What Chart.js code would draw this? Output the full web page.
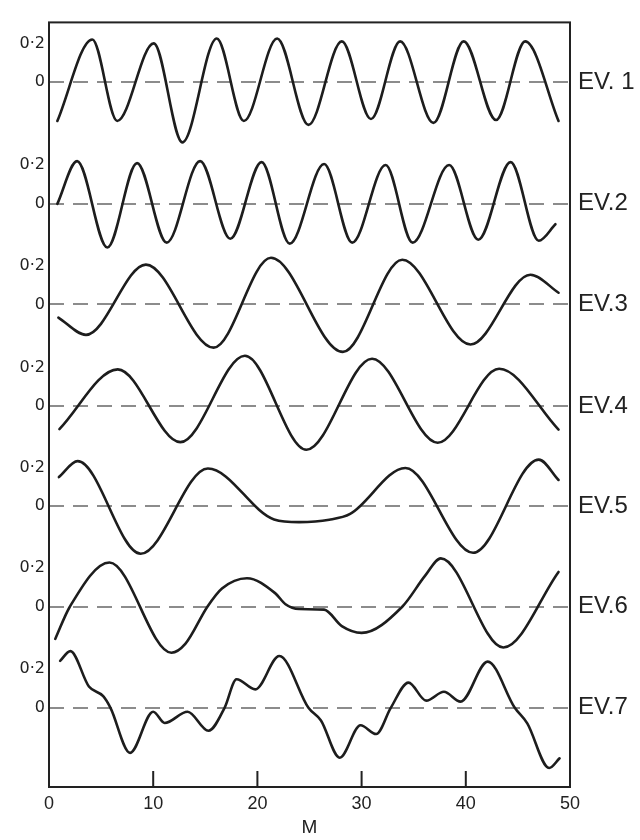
<!DOCTYPE html>
<html>
<head>
<meta charset="utf-8">
<script src="https://cdn.jsdelivr.net/npm/chart.js@4.4.0/dist/chart.umd.min.js"></script>
<style>
  html, body { margin: 0; padding: 0; background: #fff; }
  #wrap { width: 640px; height: 840px; }
</style>
</head>
<body>
<div id="wrap"><canvas id="chart"></canvas></div>
<script>
// values: M position of each peak / trough (plus a few
// crossings and shoulders) and the eigenvector amplitude there
const ev1M = [0.8, 4.15, 6.55, 10.05, 12.8, 16.1, 18.7, 21.9, 24.9, 28.1, 30.9, 33.7, 36.9, 39.8, 42.9, 45.7, 48.9];
const ev1V = [-0.2, 0.22, -0.2, 0.2, -0.31, 0.225, -0.2, 0.225, -0.22, 0.21, -0.19, 0.21, -0.21, 0.21, -0.195, 0.21, -0.2];

const ev2M = [0.8, 2.7, 5.6, 8.45, 11.3, 14.5, 17.4, 20.4, 23.1, 26.4, 29.1, 32.3, 34.9, 38.4, 41.2, 44.3, 47.0, 48.6];
const ev2V = [0, 0.22, -0.225, 0.21, -0.2, 0.22, -0.18, 0.215, -0.205, 0.205, -0.2, 0.2, -0.2, 0.2, -0.185, 0.215, -0.19, -0.105];

const ev3M = [0.9, 3.55, 9.3, 15.8, 21.3, 28.2, 33.9, 40.45, 46.2, 48.9];
const ev3V = [-0.068, -0.157, 0.205, -0.223, 0.24, -0.245, 0.23, -0.207, 0.153, 0.06];

const ev4M = [1.0, 6.6, 12.6, 18.8, 24.7, 31.0, 37.3, 43.2, 48.9];
const ev4V = [-0.118, 0.19, -0.185, 0.26, -0.224, 0.245, -0.188, 0.193, -0.12];

const ev5M = [0.95, 2.75, 8.8, 15.25, 21.6, 24.0, 26.9, 28.9, 34.2, 40.7, 47.0, 48.9];
const ev5V = [0.15, 0.232, -0.245, 0.194, -0.068, -0.082, -0.07, -0.04, 0.197, -0.24, 0.24, 0.135];

const ev6M = [0.6, 2.0, 5.8, 11.75, 13.1, 15.2, 16.6, 19.0, 21.7, 22.7, 24.0, 26.4, 28.1, 30.0, 33.9, 36.1, 37.6, 43.6, 48.9];
const ev6V = [-0.166, 0, 0.228, -0.237, -0.19, 0, 0.094, 0.147, 0.07, 0.013, -0.012, -0.015, -0.1, -0.135, 0, 0.16, 0.249, -0.21, 0.179];

const ev7M = [1.07, 2.05, 3.83, 5.2, 5.9, 7.78, 10.0, 11.1, 13.3, 15.3, 16.85, 18.0, 19.8, 22.1, 24.9, 26.1, 27.9, 29.9, 31.4, 32.8, 34.5, 36.2, 37.9, 39.5, 42.1, 44.7, 45.9, 48.0, 49.0];
const ev7V = [0.242, 0.292, 0.11, 0.06, 0, -0.232, -0.02, -0.078, -0.02, -0.118, 0, 0.147, 0.095, 0.267, 0, -0.065, -0.257, -0.09, -0.135, 0, 0.13, 0.037, 0.083, 0.032, 0.238, 0, -0.08, -0.31, -0.26];

const evNames = ['EV. 1', 'EV.2', 'EV.3', 'EV.4', 'EV.5', 'EV.6', 'EV.7'];
const xTickLabels = [0, 10, 20, 30, 40, 50];
const innerTicks = [10, 20, 30, 40];

// layout: where each trace's zero sits on the shared y axis (1 unit ~ 197px)
const zeroLevels = [3.632, 3.005, 2.487, 1.962, 1.447, 0.929, 0.408];
const yTop = 3.94;

const traces = [[ev1M, ev1V], [ev2M, ev2V], [ev3M, ev3V], [ev4M, ev4V], [ev5M, ev5V], [ev6M, ev6V], [ev7M, ev7V]];

const datasets = traces.map(([ms, vs], k) => ({
  label: evNames[k],
  data: ms.map((m, i) => ({x: m, y: vs[i] + zeroLevels[k]})),
  borderColor: '#1d1d1d',
  borderWidth: 2.6,
  pointRadius: 0,
  fill: false,
  cubicInterpolationMode: 'monotone',
  borderJoinStyle: 'round',
  borderCapStyle: 'round'
}));

// left ticks: "0" and "0·2" for every trace, ascending
const leftTicks = [];
const leftLabels = [];
for (let k = zeroLevels.length - 1; k >= 0; k--) {
  leftTicks.push(zeroLevels[k]); leftLabels.push('0');
  leftTicks.push(zeroLevels[k] + 0.2); leftLabels.push('0·2');
}
const rightTicks = zeroLevels.slice().reverse();
const rightLabels = evNames.slice().reverse();

const textColor = '#222';
const family = '"Liberation Sans", Arial, sans-serif';

const frame = {
  id: 'frame',
  afterDraw(chart) {
    const {ctx, chartArea: a, scales: {x}} = chart;
    ctx.save();
    ctx.strokeStyle = '#222';
    ctx.lineWidth = 2;
    ctx.strokeRect(a.left, a.top, a.right - a.left, a.bottom - a.top);
    ctx.beginPath();
    innerTicks.forEach(v => {
      const px = x.getPixelForValue(v);
      ctx.moveTo(px, a.bottom);
      ctx.lineTo(px, a.bottom - 16);
    });
    ctx.stroke();
    ctx.restore();
  }
};

const ctx = document.getElementById('chart').getContext('2d');
new Chart(ctx, {
  type: 'line',
  data: {datasets},
  plugins: [frame],
  options: {
    responsive: true,
    maintainAspectRatio: false,
    animation: false,
    layout: {padding: {top: 11, left: 0, right: 0, bottom: 0}},
    plugins: {legend: {display: false}, tooltip: {enabled: false}},
    scales: {
      x: {
        type: 'linear',
        min: 0,
        max: 50,
        afterBuildTicks: s => { s.ticks = xTickLabels.map(v => ({value: v})); },
        afterFit: s => { s.height = 53; },
        grid: {display: false, drawTicks: false},
        border: {display: false},
        ticks: {color: textColor, padding: 6, font: {family, size: 18}},
        title: {display: true, text: 'M', color: textColor, font: {family, size: 19, lineHeight: 1}, padding: {top: 0, bottom: 3}}
      },
      y: {
        type: 'linear',
        position: 'left',
        min: 0,
        max: yTop,
        afterBuildTicks: s => { s.ticks = leftTicks.map(v => ({value: v})); },
        afterFit: s => { s.width = 49; },
        grid: {display: false, drawTicks: false},
        border: {display: false},
        ticks: {autoSkip: false, color: textColor, padding: 4, font: {family: '"DejaVu Sans", sans-serif', size: 16}, callback: (v, i) => leftLabels[i]}
      },
      y2: {
        type: 'linear',
        position: 'right',
        min: 0,
        max: yTop,
        afterBuildTicks: s => { s.ticks = rightTicks.map(v => ({value: v})); },
        afterFit: s => { s.width = 70; },
        grid: {display: true, drawTicks: false, color: '#8c8c8c', lineWidth: 2},
        border: {display: false, dash: [15, 9]},
        ticks: {autoSkip: false, color: textColor, padding: 8, font: {family, size: 24}, callback: (v, i) => rightLabels[i]}
      }
    }
  }
});
</script>
</body>
</html>
